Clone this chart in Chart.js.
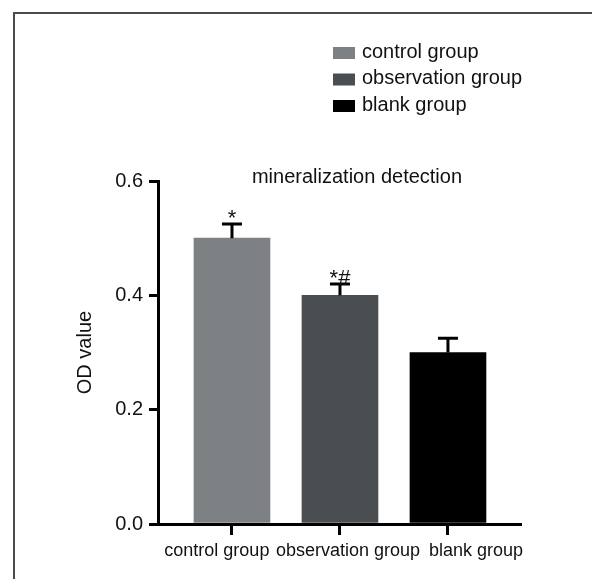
<!DOCTYPE html>
<html><head><meta charset="utf-8">
<script src="https://cdn.jsdelivr.net/npm/chart.js@4.4.0/dist/chart.umd.min.js"></script>
<style>
html,body{margin:0;padding:0;background:#fff;}
#wrap{position:relative;width:592px;height:579px;overflow:hidden;}
#frame{position:absolute;left:13px;top:12px;width:700px;height:700px;border-top:2px solid #4a4a4a;border-left:2px solid #4a4a4a;}
canvas{position:absolute;left:0;top:0;}
</style></head><body>
<div id="wrap"><div id="frame"></div><canvas id="c" width="592" height="579"></canvas></div>
<script>
const categories = ['control group', 'observation group', 'blank group'];
const odValues = [0.50, 0.40, 0.30];
const errorValues = [0.025, 0.02, 0.025];
const markers = ['*', '*#', ''];
const barColors = ['#7e8183', '#4b4e51', '#000000'];
const yTicks = [0.0, 0.2, 0.4, 0.6];
const chartTitle = 'mineralization detection';
const yTitle = 'OD value';
// horizontal shift of each category label from its tick (style, in category units)
const labelShift = [-0.14, 0.075, 0.26];

const FONT = '"Liberation Sans", Arial, sans-serif';
const X_MIN = -0.685, X_MAX = 2.667;

const decor = {
  id: 'decor',
  afterDatasetsDraw(chart) {
    const {ctx, chartArea, scales: {x, y}} = chart;
    ctx.save();
    ctx.strokeStyle = '#000';
    ctx.lineWidth = 3;
    odValues.forEach((v, i) => {
      const px = x.getPixelForValue(i);
      const top = y.getPixelForValue(v);
      const e = y.getPixelForValue(v + errorValues[i]);
      ctx.beginPath();
      ctx.moveTo(px, top); ctx.lineTo(px, e);
      ctx.moveTo(px - 10, e); ctx.lineTo(px + 10, e);
      ctx.stroke();
      if (markers[i]) {
        ctx.font = '22px ' + FONT;
        ctx.textAlign = 'center';
        ctx.textBaseline = 'middle';
        ctx.fillStyle = '#111';
        ctx.fillText(markers[i], px, e - 5);
      }
    });
    // chart title
    ctx.font = '20px ' + FONT;
    ctx.fillStyle = '#111';
    ctx.textAlign = 'center';
    ctx.textBaseline = 'middle';
    ctx.fillText(chartTitle, chartArea.left + 199, chartArea.top - 4);
    // legend
    const rows = [53, 79.5, 106];
    ctx.textAlign = 'left';
    categories.forEach((c, i) => {
      ctx.fillStyle = barColors[i];
      ctx.fillRect(333, rows[i] - 6, 22, 12);
      ctx.fillStyle = '#111';
      ctx.fillText(c, 362, rows[i] - 1);
    });
    ctx.restore();
  }
};

new Chart(document.getElementById('c'), {
  type: 'bar',
  data: {
    datasets: [{
      data: categories.map((c, i) => ({x: i, y: odValues[i]})),
      backgroundColor: barColors,
      borderWidth: 0,
      barThickness: 76
    }]
  },
  options: {
    responsive: false,
    devicePixelRatio: 1,
    animation: false,
    layout: {padding: {top: 181, right: 72, bottom: 0, left: 0}},
    plugins: {legend: {display: false}, tooltip: {enabled: false}, title: {display: false}},
    scales: {
      x: {
        type: 'linear',
        position: 'bottom',
        offset: false,
        weight: 0,
        min: X_MIN,
        max: X_MAX,
        z: 1,
        afterBuildTicks: s => { s.ticks = categories.map((c, i) => ({value: i})); },
        afterFit: s => { s.height = 0; },
        grid: {drawOnChartArea: false, drawTicks: true, tickLength: 11, lineWidth: 3, color: '#000', offset: false},
        border: {display: true, width: 3, color: '#000'},
        ticks: {display: false}
      },
      xl: {
        type: 'linear',
        position: 'bottom',
        offset: false,
        weight: 1,
        min: X_MIN,
        max: X_MAX,
        z: 1,
        afterBuildTicks: s => { s.ticks = categories.map((c, i) => ({value: i + labelShift[i]})); },
        afterFit: s => { s.height = 55; },
        grid: {display: false, drawTicks: false},
        border: {display: false},
        ticks: {
          font: {size: 18, family: FONT},
          color: '#111',
          padding: 16,
          maxRotation: 0,
          autoSkip: false,
          callback: v => categories[Math.round(v)] ?? ''
        }
      },
      y: {
        min: 0,
        max: 0.6,
        z: 1,
        afterBuildTicks: s => { s.ticks = yTicks.map(v => ({value: v})); },
        afterFit: s => { s.width = 158; },
        grid: {drawOnChartArea: false, drawTicks: true, tickLength: 9, lineWidth: 3, color: '#000'},
        border: {display: true, width: 3, color: '#000'},
        ticks: {
          font: {size: 20, family: FONT},
          color: '#111',
          padding: 6,
          callback: v => Number(v).toFixed(1)
        },
        title: {
          display: true,
          text: yTitle,
          font: {size: 20, family: FONT},
          color: '#111',
          padding: {top: 73, bottom: 0}
        }
      }
    }
  },
  plugins: [decor]
});
</script>
</body></html>
